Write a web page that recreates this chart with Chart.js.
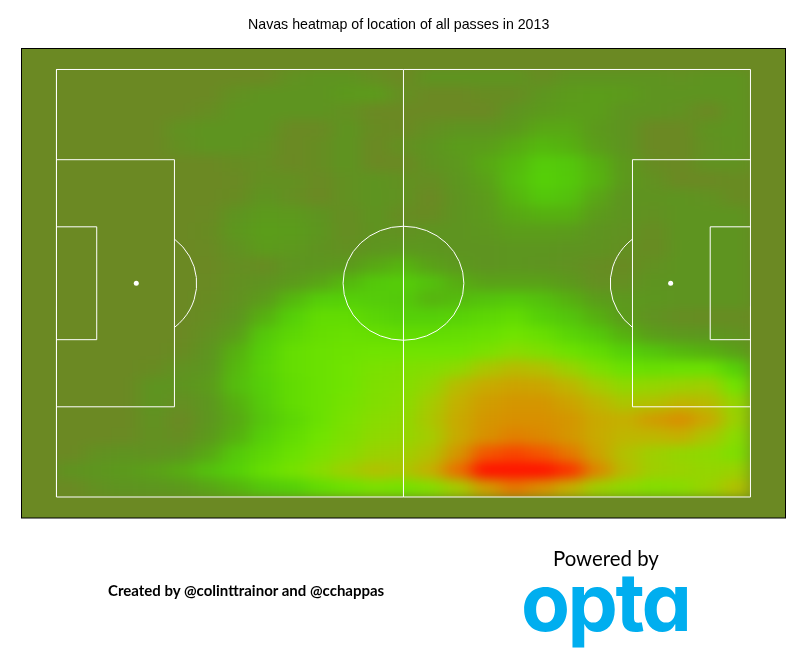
<!DOCTYPE html>
<html>
<head>
<meta charset="utf-8">
<title>Navas heatmap</title>
<script src="https://cdn.jsdelivr.net/npm/chart.js@4"></script>
<style>
  html, body { margin: 0; background: #fff; }
  #wrap { position: relative; width: 800px; height: 648px; overflow: hidden; }
  canvas { position: absolute; left: 0; top: 0; }
  .foot { position: absolute; white-space: nowrap; font-family: Lato, sans-serif; color: #000; }
  #title { left: 248px; top: 15px; font-family: "Liberation Sans", Arial, sans-serif; font-size: 14.2px; line-height: 18px; }
  #created { left: 108px; top: 581px; font-size: 15px; font-weight: 700; }
  #powered { left: 553px; top: 546px; font-size: 20.4px; }
  #opta { left: 521px; top: 554px; font-family: Inter, sans-serif; font-size: 80px; font-weight: 700; color: #00aeef;
    letter-spacing: -2.5px; line-height: 96px; font-feature-settings: "cv11"; }
</style>
</head>
<body>
<div id="wrap">
  <canvas id="heat" width="800" height="648"></canvas>
  <div class="foot" id="title">Navas heatmap of location of all passes in 2013</div>
  <div class="foot" id="created">Created by @colinttrainor and @cchappas</div>
  <div class="foot" id="powered">Powered by</div>
  <div class="foot" id="opta">opta</div>
</div>
<script>
// cell centres, pitch runs 0-100 on both axes
const heatX = [2, 6, 10, 14, 18, 22, 26, 30, 34, 38, 42, 46, 50, 54, 58, 62, 66, 70, 74, 78, 82, 86, 90, 94, 98];
const heatY = [98, 94, 90, 86, 82, 78, 74, 70, 66, 62, 58, 54, 50, 46, 42, 38, 34, 30, 26, 22, 18, 14, 10, 6, 2];

// pass intensity, top row first
const heatValues = [
  [0,0,0,0,0,0,0,0,.8,1,1,.5,0,1,1,1,1,.4,1,1,1,1,.8,1,1],
  [0,0,0,0,0,0,.7,1,1,1,1.6,1.8,.5,0,0,.3,.3,1.2,1.8,2,1.8,1,1,1,1],
  [0,0,0,0,0,.4,1,1,1,1,.6,0,0,0,0,0,1,1.6,2,2,1,1,.8,0,1],
  [0,0,0,0,.8,1,1,1,.1,.1,1,.2,0,.6,1,1,1.6,2.5,2.5,1.6,1,0,0,.9,1],
  [0,0,0,0,.6,1,1,.7,0,.4,1,0,.6,1,1.9,2,2.7,3.4,3,2,1,0,0,.7,1],
  [0,0,0,0,0,0,.3,.5,0,.4,1,0,0,.9,1.4,2.6,3.4,4.6,4.2,3,1.6,.3,0,.8,.8],
  [0,0,0,0,0,0,.1,.6,.6,.1,.7,1,.7,.4,1.2,2.2,3.6,5,4.4,3.2,1.6,.7,0,0,.2],
  [0,0,0,0,0,0,.2,1,.5,0,.7,1,.8,0,1,1.8,3.2,4.2,3.8,2.4,1,.9,1,.8,.2],
  [0,0,0,0,0,.1,1,1.7,1.5,1,.4,1,.3,.2,1,1.7,2.6,3,3,1.8,1,.7,1,1,1],
  [0,0,0,0,0,.2,1.3,2,1.9,1.2,.4,.9,.7,1,1,1.3,2,2,1.9,1,.8,.3,1,1,1],
  [0,0,0,0,0,.1,.8,1.8,1.5,.9,.6,1.1,1.4,1.2,1,1,1.2,1.2,1,.9,.6,.2,1,1,1],
  [0,0,0,0,0,0,.5,.3,1,1.2,1.6,2.6,3.2,2.2,1.4,1,1.2,1,.8,.4,.2,.7,1,1,1],
  [0,0,0,0,0,.1,.6,.9,1.7,2.4,3.4,4.4,4.7,3.8,2.8,2.2,2.2,2.2,1.6,.5,.5,1,1,1,1],
  [0,0,0,0,0,.2,.7,1.8,3.4,4.8,5,4.6,4.4,3.2,3.5,3.9,4.4,3.8,3,2,1.4,1.2,1,1,1],
  [0,0,0,0,0,.4,1,3,5,6,6,5.4,5,5,5.2,5.6,6,5,4,3,1.8,.8,.4,.3,.3],
  [0,0,0,0,0,.7,2,4.4,5.6,6.3,6.5,6.3,6,6,6.2,6.5,7,6.4,5.4,4.4,3,2,1.4,1.2,.8],
  [0,0,0,0,.2,1,3,5,6.2,6.6,6.8,7,7,7,7,7.4,8,7.6,6.8,6,5,4,3.4,3,2.2],
  [0,0,0,.2,.8,1.2,3.4,5.2,6.2,6.6,7,7.4,7.6,7.8,8.2,9.2,9.6,9.4,8.6,7.6,6.6,6.4,6.6,6.6,5],
  [0,0,0,1,1,1.8,3.6,5,6,6.6,7,7.6,7.8,8.4,9.6,10.2,10.4,10.3,9.8,9,8.2,8.4,8.6,8.8,7],
  [0,0,0,1,.5,1.2,3,4.6,6,6.6,7.2,7.7,8,9,10,10.6,10.8,10.8,10.4,9.8,9.2,9.4,9.8,9.6,8.4],
  [0,0,0,.8,.1,1.2,2.6,4.2,5.6,6.6,7.4,8,8.2,9.2,10.2,10.8,11,11,10.8,10.2,10,10.6,11,10.2,8.6],
  [0,0,.1,.7,.3,1.6,3,5,6,7,7.6,8.2,8.4,9,10.2,11,11.4,11.2,10.8,10.2,9.8,9.8,10,9.2,8],
  [0,.7,.9,.8,1.2,2.6,4.4,5.6,6.6,7.4,8,8.6,8.8,9.4,10.8,12.4,12.8,12.4,11.6,10.4,9.4,8.8,8.4,8.2,7.6],
  [.9,1.2,1.7,2.2,2.8,3.8,5,6.2,7.2,8,8.8,9.4,9.2,10,11.8,14,14,14,13.2,11.2,9.6,8.8,8.6,8.4,8.6],
  [.1,.7,1,1.2,1.6,2.4,3.2,4.2,5,6,6.8,7.4,7.2,7.8,9,10.6,11.6,11,10,8.8,8.2,7.8,8,8.6,9.4]
];

// colour for intensity 0, 1, 2 ... 14
const heatStops = ['#6b8923', '#5e9420', '#5b9d1a', '#56b010', '#54c50c', '#55d008', '#62dc02', '#70e400',
  '#88dc00', '#a4cc00', '#c4b000', '#d89000', '#ee6800', '#fa3c00', '#ff1400'];

// pitch markings, Opta coordinates
const touchLines = [[0, 0], [100, 0], [100, 100], [0, 100], [0, 0]];
const halfwayLine = [[50, 0], [50, 100]];
const leftBox = [[0, 21.1], [17, 21.1], [17, 78.9], [0, 78.9]];
const rightBox = [[100, 21.1], [83, 21.1], [83, 78.9], [100, 78.9]];
const leftSixYard = [[0, 36.8], [5.8, 36.8], [5.8, 63.2], [0, 63.2]];
const rightSixYard = [[100, 36.8], [94.2, 36.8], [94.2, 63.2], [100, 63.2]];
const leftGoal = [[0, 44.6], [0, 55.4]];
const rightGoal = [[100, 44.6], [100, 55.4]];
const penaltySpots = [[11.5, 50], [88.5, 50]];

const xy = p => ({ x: p[0], y: p[1] });

function lineSet(points, color) {
  return {
    data: points.map(xy), showLine: true, borderColor: color, borderWidth: 1,
    pointRadius: 0, fill: false, tension: 0, order: 1
  };
}

function heatColor(v) {
  const i = Math.min(Math.floor(v), heatStops.length - 2);
  const t = v - i;
  const a = parseInt(heatStops[i].slice(1), 16), b = parseInt(heatStops[i + 1].slice(1), 16);
  const mix = s => Math.round(((a >> s) & 255) * (1 - t) + ((b >> s) & 255) * t);
  return `rgb(${mix(16)},${mix(8)},${mix(0)})`;
}

// Chart.js only has square points, the cells are wider than tall so use a small canvas as point style
const sprites = {};
function cellSprite(v) {
  if (!sprites[v]) {
    const c = document.createElement('canvas');
    c.width = 29;
    c.height = 18;
    const g = c.getContext('2d');
    g.fillStyle = heatColor(v);
    g.fillRect(0, 0, 29, 18);
    sprites[v] = c;
  }
  return sprites[v];
}

const heatPoints = [];
heatValues.forEach((row, r) => row.forEach((v, c) => heatPoints.push({ x: heatX[c], y: heatY[r], v: v })));

const pitchBackground = {
  id: 'pitchBackground',
  beforeDatasetsDraw(chart) {
    const { ctx, chartArea: a } = chart;
    ctx.save();
    ctx.fillStyle = heatStops[0];
    ctx.fillRect(a.left, a.top, a.width, a.height);
    ctx.restore();
  },
  afterDraw(chart) {
    const { ctx, chartArea: a } = chart;
    ctx.save();
    ctx.strokeStyle = '#000';
    ctx.lineWidth = 1;
    ctx.strokeRect(a.left, a.top, a.width, a.height);
    ctx.restore();
  }
};

// smooth the coarse cells: squeeze sideways so the cells are square, blur, stretch back
const heatBlur = {
  id: 'heatBlur',
  afterDatasetDraw(chart, args) {
    if (args.index !== 0) return;
    const { ctx, canvas, scales: { x, y }, chartArea: a } = chart;
    const l = x.getPixelForValue(0), r = x.getPixelForValue(100);
    const t = y.getPixelForValue(100), b = y.getPixelForValue(0);
    const squeeze = 1.62;
    const sw = Math.round(a.width / squeeze), sh = Math.round(a.height);
    const raw = document.createElement('canvas');
    raw.width = sw;
    raw.height = sh;
    const g = raw.getContext('2d');
    g.filter = 'blur(5.5px)';
    g.drawImage(canvas, a.left, a.top, a.width, a.height, 0, 0, sw, sh);
    ctx.save();
    ctx.setTransform(1, 0, 0, 1, 0, 0);
    ctx.fillStyle = heatStops[0];
    ctx.fillRect(a.left, a.top, a.width, a.height);
    ctx.beginPath();
    ctx.rect(l, t, r - l, b - t);
    ctx.clip();
    ctx.imageSmoothingQuality = 'high';
    ctx.drawImage(raw, a.left, a.top, a.width, a.height);
    ctx.restore();
  }
};

// centre circle and the two D arcs
const pitchArcs = {
  id: 'pitchArcs',
  afterDatasetsDraw(chart) {
    const { ctx, scales: { x, y } } = chart;
    const rx = 60.4, ry = 57;
    const d = 50.8 * Math.PI / 180;
    const cy = y.getPixelForValue(50);
    ctx.save();
    ctx.strokeStyle = '#fff';
    ctx.lineWidth = 1;
    ctx.beginPath();
    ctx.ellipse(x.getPixelForValue(50), cy, rx, ry, 0, 0, Math.PI * 2);
    ctx.stroke();
    ctx.beginPath();
    ctx.ellipse(x.getPixelForValue(penaltySpots[0][0]), cy, rx, ry, 0, -d, d);
    ctx.stroke();
    ctx.beginPath();
    ctx.ellipse(x.getPixelForValue(penaltySpots[1][0]), cy, rx, ry, 0, Math.PI - d, Math.PI + d);
    ctx.stroke();
    ctx.restore();
  }
};

new Chart(document.getElementById('heat').getContext('2d'), {
  type: 'scatter',
  data: {
    datasets: [
      {
        data: heatPoints, order: 10, pointRadius: 10, pointBorderWidth: 0,
        pointStyle: c => cellSprite(c.raw.v)
      },
      lineSet(touchLines, '#fff'),
      lineSet(halfwayLine, '#fff'),
      lineSet(leftBox, '#fff'),
      lineSet(rightBox, '#fff'),
      lineSet(leftSixYard, '#fff'),
      lineSet(rightSixYard, '#fff'),
      lineSet(leftGoal, '#000'),
      lineSet(rightGoal, '#000'),
      {
        data: penaltySpots.map(xy), order: 1, pointRadius: 2.5,
        pointBackgroundColor: '#fff', pointBorderWidth: 0
      }
    ]
  },
  options: {
    responsive: false,
    animation: false,
    events: [],
    layout: { padding: { left: 21.5, right: 14.5, top: 48.5, bottom: 130 } },
    scales: {
      x: { type: 'linear', display: false, min: -5.04, max: 105.05 },
      y: { type: 'linear', display: false, min: -4.91, max: 104.91 }
    },
    plugins: {
      legend: { display: false },
      tooltip: { enabled: false },
      title: { display: false }
    }
  },
  plugins: [pitchBackground, heatBlur, pitchArcs]
});
</script>
</body>
</html>
